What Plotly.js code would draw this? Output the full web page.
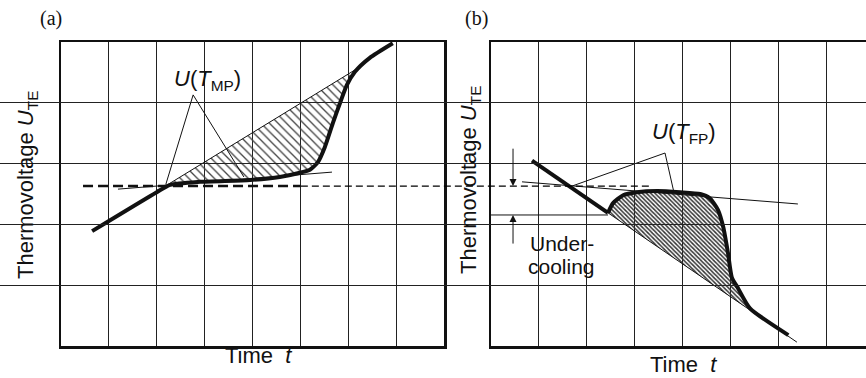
<!DOCTYPE html>
<html>
<head>
<meta charset="utf-8">
<script src="https://cdn.plot.ly/plotly-3.0.1.min.js"></script>
<style>html,body{margin:0;padding:0;background:#fff;}</style>
</head>
<body>
<div id="chart" style="width:866px;height:378px;"></div>
<script>
(function () {
// ---- (a) heating: melting plateau ----
const heatT = [0.65, 2.00, 2.28, 2.90, 3.95, 4.57, 4.99, 5.20, 5.37, 5.51, 5.68, 5.83, 5.97, 6.14, 6.45, 6.93];
const heatU = [1.89, 2.53, 2.65, 2.70, 2.73, 2.78, 2.85, 2.90, 3.03, 3.27, 3.67, 4.00, 4.29, 4.51, 4.74, 4.98];
// straight chord closing the hatched area
const meltChordT = [2.20, 6.18];
const meltChordU = [2.64, 4.56];
// tangent along the plateau
const meltTangentT = [1.19, 5.66];
const meltTangentU = [2.58, 2.86];
// callout lines to the U(T_MP) label
const meltCalloutT = [2.19, 2.76, 3.82];
const meltCalloutU = [2.66, 4.13, 2.78];
const meltLabel = {t: 3.05, u: 4.375};

// ---- (b) cooling: undercooling and freezing plateau ----
const coolT = [0.856, 2.444];
const coolU = [3.05, 2.19];
const freezeT = [2.444, 2.55, 2.76, 3.05, 3.47, 3.95, 4.37, 4.57, 4.74, 4.85, 4.95, 5.03, 5.16, 5.41, 6.21];
const freezeU = [2.19, 2.35, 2.48, 2.53, 2.55, 2.53, 2.50, 2.43, 2.24, 1.96, 1.53, 1.13, 0.95, 0.62, 0.18];
// extrapolated cooling line
const extrapT = [2.444, 6.39];
const extrapU = [2.19, 0.063];
const hatchEndT = 5.37, hatchEndU = 0.61;
// tangent along the freezing plateau
const freezeTangentT = [0.648, 6.41];
const freezeTangentU = [2.70, 2.336];
const freezeCalloutT = [1.69, 3.635, 3.82];
const freezeCalloutU = [2.63, 3.174, 2.53];
const freezeLabel = {t: 4.03, u: 3.50};
// undercooling marker: level of the minimum and arrow positions
const underLevel = 2.155;
const arrowT = 0.46;
const arrowDown = [3.27, 2.63];
const arrowUp = [1.66, 2.155];

// U(T_MP) level, running across both panels
const mpLevel = 2.63;
const mpBoldT = [0.46, 5.01];     // panel (a) units
const mpThinT = [5.01, 12.29];    // shared overlay units

// ---- geometry ----
const W = 866, H = 378;
const pxPerT = 47.875;
const padLeftA = 61, frameBottom = 346, frameTop = 42;
const padLeftB = 491;
const yDom = [1 - frameBottom / H, 1 - frameTop / H];

const ink = '#111';
const fontSans = 'Liberation Sans, Arial, Helvetica, sans-serif';

// hatched area between curve and chord (a)
const hatchAT = [meltChordT[0], meltChordT[1]];
const hatchAU = [meltChordU[0], meltChordU[1]];
for (let i = heatT.length - 1; i >= 0; i--) {
  if (heatT[i] > meltChordT[0] && heatT[i] < meltChordT[1]) {
    hatchAT.push(heatT[i]); hatchAU.push(heatU[i]);
  }
}
// hatched area between curve and extrapolated line (b)
const hatchBT = [], hatchBU = [];
for (let i = 0; i < freezeT.length; i++) {
  if (freezeT[i] < hatchEndT) { hatchBT.push(freezeT[i]); hatchBU.push(freezeU[i]); }
}
hatchBT.push(hatchEndT); hatchBU.push(hatchEndU);

const thin = {color: ink, width: 1};
const traces = [
  // (a)
  {x: hatchAT, y: hatchAU, xaxis: 'x', yaxis: 'y', mode: 'lines', fill: 'toself',
   fillcolor: 'rgba(0,0,0,0)', line: {width: 0},
   fillpattern: {shape: '\\', size: 6, solidity: 0.22, fgcolor: '#444', bgcolor: 'rgba(0,0,0,0)'}},
  {x: meltChordT, y: meltChordU, xaxis: 'x', yaxis: 'y', mode: 'lines', line: thin},
  {x: meltTangentT, y: meltTangentU, xaxis: 'x', yaxis: 'y', mode: 'lines', line: thin},
  {x: meltCalloutT, y: meltCalloutU, xaxis: 'x', yaxis: 'y', mode: 'lines', line: thin},
  {x: mpBoldT, y: [mpLevel, mpLevel], xaxis: 'x', yaxis: 'y', mode: 'lines',
   line: {color: ink, width: 2.5, dash: '10px,5px'}},
  {x: heatT, y: heatU, xaxis: 'x', yaxis: 'y', mode: 'lines',
   line: {color: ink, width: 4, shape: 'spline', smoothing: 0.6}},
  // (b)
  {x: hatchBT, y: hatchBU, xaxis: 'x2', yaxis: 'y2', mode: 'lines', fill: 'toself',
   fillcolor: 'rgba(0,0,0,0)', line: {width: 0},
   fillpattern: {shape: '\\', size: 3, solidity: 0.5, fgcolor: '#333', bgcolor: 'rgba(0,0,0,0)'}},
  {x: extrapT, y: extrapU, xaxis: 'x2', yaxis: 'y2', mode: 'lines', line: thin},
  {x: freezeTangentT, y: freezeTangentU, xaxis: 'x2', yaxis: 'y2', mode: 'lines', line: thin},
  {x: freezeCalloutT, y: freezeCalloutU, xaxis: 'x2', yaxis: 'y2', mode: 'lines', line: thin},
  {x: [0, coolT[1]], y: [underLevel, underLevel], xaxis: 'x2', yaxis: 'y2', mode: 'lines', line: thin},
  {x: coolT, y: coolU, xaxis: 'x2', yaxis: 'y2', mode: 'lines', line: {color: ink, width: 4}},
  {x: freezeT, y: freezeU, xaxis: 'x2', yaxis: 'y2', mode: 'lines',
   line: {color: ink, width: 4, shape: 'spline', smoothing: 0.6}},
  // level line crossing both panels
  {x: mpThinT, y: [mpLevel, mpLevel], xaxis: 'x3', yaxis: 'y', mode: 'lines',
   line: {color: '#000', width: 1.3, dash: '7px,4px'}}
];

const gridAxis = {
  showgrid: true, gridcolor: '#222', gridwidth: 1, dtick: 1, tick0: 0,
  showticklabels: false, ticks: '', zeroline: false,
  showline: true, linecolor: ink, linewidth: 2.5, fixedrange: true
};

const paperText = (x, y, text, extra) => Object.assign({
  xref: 'paper', yref: 'paper', x: x / W, y: 1 - y / H, text: text, showarrow: false,
  xanchor: 'center', yanchor: 'middle', font: {family: fontSans, size: 22, color: ink}
}, extra || {});

const serif = {family: 'Liberation Serif, Times New Roman, serif', size: 20, color: ink};
const annotations = [
  paperText(51, 18, '(a)', {font: serif}),
  paperText(476, 18, '(b)', {font: serif}),
  paperText(258, 355, 'Time  <i>t</i>'),
  paperText(683, 364, 'Time  <i>t</i>'),
  paperText(27, 185, 'Thermovoltage <i>U</i><sub>TE</sub>', {textangle: -90}),
  paperText(470, 180, 'Thermovoltage <i>U</i><sub>TE</sub>', {textangle: -90}),
  {xref: 'x', yref: 'y', x: meltLabel.t, y: meltLabel.u, showarrow: false,
   text: '<i>U</i>(<i>T</i><sub>MP</sub>)', font: {family: fontSans, size: 22, color: ink}},
  {xref: 'x2', yref: 'y2', x: freezeLabel.t, y: freezeLabel.u, showarrow: false,
   text: '<i>U</i>(<i>T</i><sub>FP</sub>)', font: {family: fontSans, size: 22, color: ink}},
  {xref: 'x2', yref: 'y2', x: 1.48, y: 1.68, showarrow: false, text: 'Under-',
   font: {family: fontSans, size: 21, color: ink}},
  {xref: 'x2', yref: 'y2', x: 1.48, y: 1.30, showarrow: false, text: 'cooling',
   font: {family: fontSans, size: 21, color: ink}},
  {xref: 'x2', yref: 'y2', axref: 'x2', ayref: 'y2', x: arrowT, y: arrowDown[1],
   ax: arrowT, ay: arrowDown[0], text: '', showarrow: true, arrowhead: 2,
   arrowsize: 1.4, arrowwidth: 1, arrowcolor: ink, standoff: 0},
  {xref: 'x2', yref: 'y2', axref: 'x2', ayref: 'y2', x: arrowT, y: arrowUp[1],
   ax: arrowT, ay: arrowUp[0], text: '', showarrow: true, arrowhead: 2,
   arrowsize: 1.4, arrowwidth: 1, arrowcolor: ink, standoff: 0}
];

const layout = {
  width: W, height: H, margin: {l: 0, r: 0, t: 0, b: 0},
  paper_bgcolor: '#fff', plot_bgcolor: 'rgba(0,0,0,0)', showlegend: false,
  xaxis: Object.assign({}, gridAxis, {domain: [padLeftA / W, 444 / W], range: [0, 8], anchor: 'y', mirror: true}),
  yaxis: Object.assign({}, gridAxis, {domain: yDom, range: [0, 5], anchor: 'x', mirror: true}),
  xaxis2: Object.assign({}, gridAxis, {domain: [padLeftB / W, 1], range: [0, (W - padLeftB) / pxPerT], anchor: 'y2', mirror: true}),
  yaxis2: Object.assign({}, gridAxis, {domain: yDom, range: [0, 5], anchor: 'x2', mirror: false}),
  xaxis3: {domain: [0, 1], range: [-padLeftA / pxPerT, (W - padLeftA) / pxPerT], anchor: 'y',
           visible: false, fixedrange: true},
  annotations: annotations
};

Plotly.newPlot('chart', traces, layout, {staticPlot: true, displayModeBar: false});
})();
</script>
</body>
</html>
